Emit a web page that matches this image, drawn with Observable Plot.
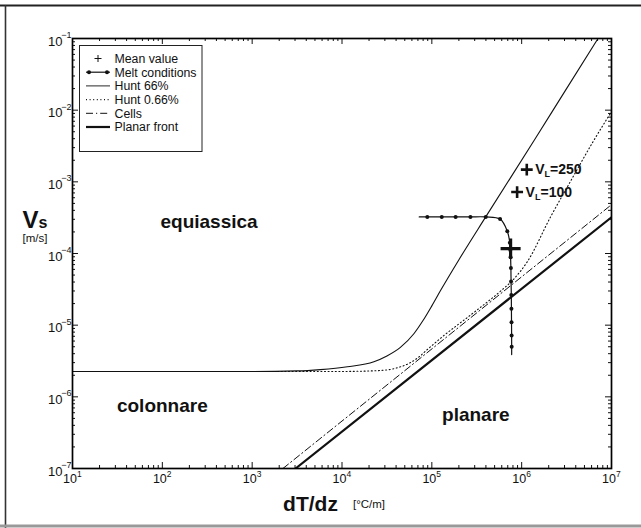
<!DOCTYPE html>
<html><head><meta charset="utf-8">
<script src="https://cdn.jsdelivr.net/npm/d3@7"></script>
<script src="https://cdn.jsdelivr.net/npm/@observablehq/plot@0.6"></script>
<style>
body{margin:0;background:#fff;}
#chart{position:relative;width:641px;height:528px;overflow:hidden;}
svg{display:block;}
</style></head><body><div id="chart"></div>
<script>
// ---- data (G = dT/dz [°C/m], V = Vs [m/s]) ----
const hunt66G = [10, 1000, 3162, 5754, 11482, 22646, 31623, 44668, 63096, 79433, 1.0e5, 1.259e5, 1.995e5, 3.98e5, 1.38e6, 3.16e6, 7.08e6];
const hunt66V = [2.26e-6, 2.26e-6, 2.30e-6, 2.40e-6, 2.63e-6, 3.09e-6, 3.72e-6, 4.90e-6, 7.59e-6, 1.15e-5, 1.86e-5, 3.09e-5, 8.13e-5, 3.24e-4, 3.80e-3, 2.0e-2, 0.1];
const hunt066G = [10, 1000, 1e4, 25119, 39811, 56234, 70795, 89125, 125893, 295121, 588844, 812831, 1148154, 2137962, 3548134, 6165950, 1e7];
const hunt066V = [2.26e-6, 2.26e-6, 2.26e-6, 2.32e-6, 2.51e-6, 2.95e-6, 3.55e-6, 4.57e-6, 6.61e-6, 1.51e-5, 3.02e-5, 4.37e-5, 7.59e-5, 3.39e-4, 1.05e-3, 3.55e-3, 9.55e-3];
const cellsG = [2200, 1e7];
const cellsV = [1e-7, 4.8e-4];
const planarG = [3040, 1e7];
const planarV = [1e-7, 3.2e-4];
const meltDotsG = [8.9e4, 1.29e5, 1.84e5, 2.69e5, 3.98e5, 5.75e5, 6.92e5, 7.38e5, 7.48e5, 7.53e5, 7.59e5, 7.62e5, 7.67e5, 7.69e5, 7.71e5, 7.73e5, 7.74e5];
const meltDotsV = [3.24e-4, 3.24e-4, 3.24e-4, 3.24e-4, 3.24e-4, 3.02e-4, 2.04e-4, 1.41e-4, 1.12e-4, 8.9e-5, 6.3e-5, 4.07e-5, 2.63e-5, 1.70e-5, 1.10e-5, 7.2e-6, 5.0e-6];
const meltStart = [7.24e4, 3.24e-4];
const meltEnd = [7.74e5, 3.89e-6];
const meanValue = [7.53e5, 1.17e-4];
const vlG = [1.14e6, 8.9e5];
const vlV = [1.48e-3, 7.2e-4];
const vlLabels = ["250", "100"];
const regionNames = ["equiassica", "colonnare", "planare"];
const regionG = [331, 100, 3.09e5];
const regionV = [2.75e-4, 7.4e-7, 5.6e-7];
const xTickValues = [1e1, 1e2, 1e3, 1e4, 1e5, 1e6, 1e7];
const yTickValues = [1e-7, 1e-6, 1e-5, 1e-4, 1e-3, 1e-2, 1e-1];
const legendLabels = ["Mean value", "Melt conditions", "Hunt 66%", "Hunt 0.66%", "Cells", "Planar front"];

// ---- helpers ----
const zip = (G, V) => G.map((g, i) => ({G: g, V: V[i]}));
const minorsOf = majors => majors.slice(0, -1).flatMap(m => [2,3,4,5,6,7,8,9].map(k => k * m));
const xMinor = minorsOf(xTickValues);
const yMinor = minorsOf(yTickValues);
const expOf = d => Math.round(Math.log10(d));
const fmtExp = e => (e < 0 ? "\u2212" + (-e) : String(e));

const W = 641, H = 528, mL = 72, mR = 30, mT = 38, mB = 60;
const fh = H - mT - mB, fw = W - mL - mR;
const FONT = "'Liberation Sans', Arial, Helvetica, sans-serif";
const INK = "#111";

const meltLine = [{G: meltStart[0], V: meltStart[1]}, ...zip(meltDotsG, meltDotsV), {G: meltEnd[0], V: meltEnd[1]}];

const plot = Plot.plot({
  width: W, height: H,
  marginLeft: mL, marginRight: mR, marginTop: mT, marginBottom: mB,
  x: {type: "log", domain: [10, 1e7], axis: null},
  y: {type: "log", domain: [1e-7, 1e-1], axis: null},
  style: {fontFamily: FONT, background: "white", color: INK},
  marks: [
    Plot.line(zip(hunt066G, hunt066V), {x: "G", y: "V", stroke: INK, strokeWidth: 1.1, strokeDasharray: "1,2.6", curve: "monotone-x", clip: true}),
    Plot.line(zip(cellsG, cellsV), {x: "G", y: "V", stroke: INK, strokeWidth: 1, strokeDasharray: "7,3,1.2,3", clip: true}),
    Plot.line(zip(planarG, planarV), {x: "G", y: "V", stroke: INK, strokeWidth: 2.2, clip: true}),
    Plot.line(zip(hunt66G, hunt66V), {x: "G", y: "V", stroke: INK, strokeWidth: 1.1, curve: "monotone-x", clip: true}),
    Plot.line(meltLine, {x: "G", y: "V", stroke: INK, strokeWidth: 1.2, curve: "catmull-rom"}),
    Plot.dot(zip(meltDotsG, meltDotsV), {x: "G", y: "V", r: 2, fill: INK}),
    Plot.dot([{G: meanValue[0], V: meanValue[1]}], {x: "G", y: "V", symbol: "plus", r: 6.5, stroke: INK, strokeWidth: 3.2}),
    Plot.dot(zip(vlG, vlV), {x: "G", y: "V", symbol: "plus", r: 3.9, stroke: INK, strokeWidth: 2.6}),
    Plot.text(regionNames.map((t, i) => ({t, G: regionG[i], V: regionV[i]})), {x: "G", y: "V", text: "t", fontSize: 19, fontWeight: "bold", fill: INK}),
    // ticks, inward on all four sides
    Plot.tickX(xTickValues, {x: d => d, insetTop: fh - 6, stroke: INK, strokeWidth: 1}),
    Plot.tickX(xTickValues, {x: d => d, insetBottom: fh - 6, stroke: INK, strokeWidth: 1}),
    Plot.tickX(xMinor, {x: d => d, insetTop: fh - 3, stroke: INK, strokeWidth: 1}),
    Plot.tickX(xMinor, {x: d => d, insetBottom: fh - 3, stroke: INK, strokeWidth: 1}),
    Plot.tickY(yTickValues, {y: d => d, insetRight: fw - 6, stroke: INK, strokeWidth: 1}),
    Plot.tickY(yTickValues, {y: d => d, insetLeft: fw - 6, stroke: INK, strokeWidth: 1}),
    Plot.tickY(yMinor, {y: d => d, insetRight: fw - 3, stroke: INK, strokeWidth: 1}),
    Plot.tickY(yMinor, {y: d => d, insetLeft: fw - 3, stroke: INK, strokeWidth: 1}),
    Plot.frame({stroke: "#000", strokeWidth: 1.7}),
    // tick labels: "10" + superscript exponent
    Plot.text(xTickValues, {x: d => d, frameAnchor: "bottom", text: () => "10", dx: -2.5, dy: 14, fontSize: 12.5, fill: INK}),
    Plot.text(xTickValues, {x: d => d, frameAnchor: "bottom", text: d => fmtExp(expOf(d)), textAnchor: "start", dx: 4.5, dy: 8, fontSize: 8.5, fill: INK}),
    Plot.text(yTickValues, {y: d => d, frameAnchor: "left", text: () => "10", textAnchor: "end", dx: -10, dy: 3, fontSize: 13, fill: INK}),
    Plot.text(yTickValues, {y: d => d, frameAnchor: "left", text: d => fmtExp(expOf(d)), textAnchor: "end", dx: -1, dy: -3.5, fontSize: 9, fill: INK})
  ]
});
document.getElementById("chart").appendChild(plot);

// ---- annotations and legend drawn with d3 into the same svg ----
const svg = d3.select(plot);
const sx = plot.scale("x"), sy = plot.scale("y");

// V_L labels next to their markers
vlLabels.forEach((lab, i) => {
  const t = svg.append("text").attr("text-anchor", "start")
    .attr("x", sx.apply(vlG[i]) + 9).attr("y", sy.apply(vlV[i]) + 5)
    .attr("font-family", FONT).attr("font-weight", "bold").attr("font-size", 14).attr("fill", INK);
  t.append("tspan").text("V");
  t.append("tspan").attr("font-size", 9).attr("dy", 3).text("L");
  t.append("tspan").attr("dy", -3).text("=" + lab);
});

// axis titles
const yt = svg.append("text").attr("x", 35).attr("y", 228).attr("text-anchor", "middle")
  .attr("font-family", FONT).attr("font-weight", "bold").attr("fill", INK);
yt.append("tspan").attr("font-size", 24).text("V");
yt.append("tspan").attr("font-size", 16).text("s");
svg.append("text").attr("x", 35).attr("y", 242).attr("text-anchor", "middle")
  .attr("font-family", FONT).attr("font-size", 11.5).attr("fill", INK).text("[m/s]");
svg.append("text").attr("x", 310.5).attr("y", 511).attr("text-anchor", "middle")
  .attr("font-family", FONT).attr("font-weight", "bold").attr("font-size", 21).attr("fill", INK).text("dT/dz");
svg.append("text").attr("x", 369).attr("y", 508).attr("text-anchor", "middle")
  .attr("font-family", FONT).attr("font-size", 11.5).attr("fill", INK).text("[°C/m]");

// legend
const lg = svg.append("g").attr("text-anchor", "start");
lg.append("rect").attr("x", 79.5).attr("y", 45.5).attr("width", 122.5).attr("height", 106)
  .attr("fill", "white").attr("stroke", "#222").attr("stroke-width", 1);
const rowY = i => 58.5 + i * 13.7;
const x0 = 86, x1 = 110, xm = 98;
legendLabels.forEach((lab, i) => {
  lg.append("text").attr("text-anchor", "start").attr("x", 114.5).attr("y", rowY(i) + 4.3).attr("font-family", FONT)
    .attr("font-size", 12.3).attr("fill", INK).text(lab);
});
// Mean value
lg.append("path").attr("d", `M${xm-3.5},${rowY(0)}H${xm+3.5}M${xm},${rowY(0)-3.5}V${rowY(0)+3.5}`).attr("stroke", INK).attr("stroke-width", 1);
// Melt conditions
lg.append("line").attr("x1", x0).attr("x2", x1).attr("y1", rowY(1)).attr("y2", rowY(1)).attr("stroke", INK).attr("stroke-width", 1.2);
[89, 107].forEach(cx => lg.append("circle").attr("cx", cx).attr("cy", rowY(1)).attr("r", 2).attr("fill", INK));
// Hunt 66%
lg.append("line").attr("x1", x0).attr("x2", x1).attr("y1", rowY(2)).attr("y2", rowY(2)).attr("stroke", INK).attr("stroke-width", 0.9);
// Hunt 0.66%
lg.append("line").attr("x1", x0).attr("x2", x1).attr("y1", rowY(3)).attr("y2", rowY(3)).attr("stroke", INK).attr("stroke-width", 1.1).attr("stroke-dasharray", "1,2.6");
// Cells
lg.append("line").attr("x1", x0).attr("x2", x1).attr("y1", rowY(4)).attr("y2", rowY(4)).attr("stroke", INK).attr("stroke-width", 1).attr("stroke-dasharray", "7,3,1.2,3");
// Planar front
lg.append("line").attr("x1", x0).attr("x2", x1).attr("y1", rowY(5)).attr("y2", rowY(5)).attr("stroke", INK).attr("stroke-width", 2.2);

// scanned page frame
svg.append("line").attr("x1", 0).attr("x2", W).attr("y1", 5.5).attr("y2", 5.5).attr("stroke", "#222").attr("stroke-width", 2);
svg.append("line").attr("x1", 5.5).attr("x2", 5.5).attr("y1", 5).attr("y2", H).attr("stroke", "#333").attr("stroke-width", 1.6);
svg.append("line").attr("x1", 0).attr("x2", W).attr("y1", 526).attr("y2", 526).attr("stroke", "#999").attr("stroke-width", 3);
</script>
</body></html>
